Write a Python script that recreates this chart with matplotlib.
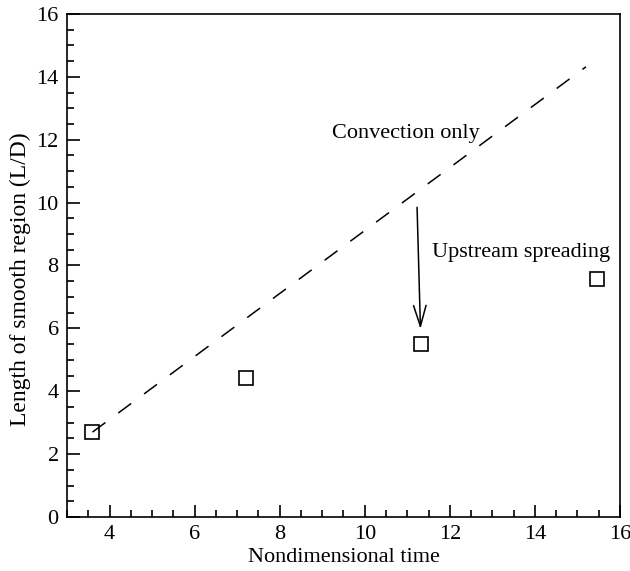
import matplotlib
matplotlib.use("Agg")
import matplotlib.pyplot as plt
from matplotlib.ticker import MultipleLocator

# measured points
time_pts = [3.58, 7.2, 11.33, 15.47]
length_pts = [2.7, 4.42, 5.5, 7.57]

# convection-only reference line
conv_x = [3.6, 15.2]
conv_y = [2.7, 14.32]

plt.rcParams['font.family'] = ['Liberation Serif', 'DejaVu Serif']

fig = plt.figure(figsize=(6.3, 5.71), dpi=100)
ax = fig.add_axes([0.1063, 0.0946, 0.8778, 0.8809])

ax.plot(conv_x, conv_y, color='black', lw=1.1, dashes=(10.5, 10.5))
ax.plot(time_pts, length_pts, 's', ms=9.5, mfc='none', mec='black', mew=1.2)

ax.annotate('', xy=(11.31, 5.98), xytext=(11.23, 9.85),
            arrowprops=dict(arrowstyle='->,head_length=1.5,head_width=0.45',
                            color='black', lw=1.1, shrinkA=0, shrinkB=0))
ax.text(9.23, 12.2, 'Convection only', fontsize=16, va='center', ha='left')
ax.text(11.58, 8.4, 'Upstream spreading', fontsize=16, va='center', ha='left')

ax.set_xlim(3, 16)
ax.set_ylim(0, 16)
ax.xaxis.set_major_locator(MultipleLocator(2))
ax.xaxis.set_minor_locator(MultipleLocator(0.5))
ax.yaxis.set_major_locator(MultipleLocator(2))
ax.yaxis.set_minor_locator(MultipleLocator(0.5))
ax.tick_params(which='both', direction='in', top=False, right=False,
               labelsize=16, width=1.2)
ax.tick_params(which='major', length=9, pad=6)
ax.tick_params(which='minor', length=5)
for s in ax.spines.values():
    s.set_linewidth(1.2)

ax.set_xlabel('Nondimensional time', fontsize=16, labelpad=3)
ax.set_ylabel('Length of smooth region (L/D)', fontsize=17)
ax.yaxis.set_label_coords(-0.065, 0.473)

fig.savefig('out.png', dpi=100)
